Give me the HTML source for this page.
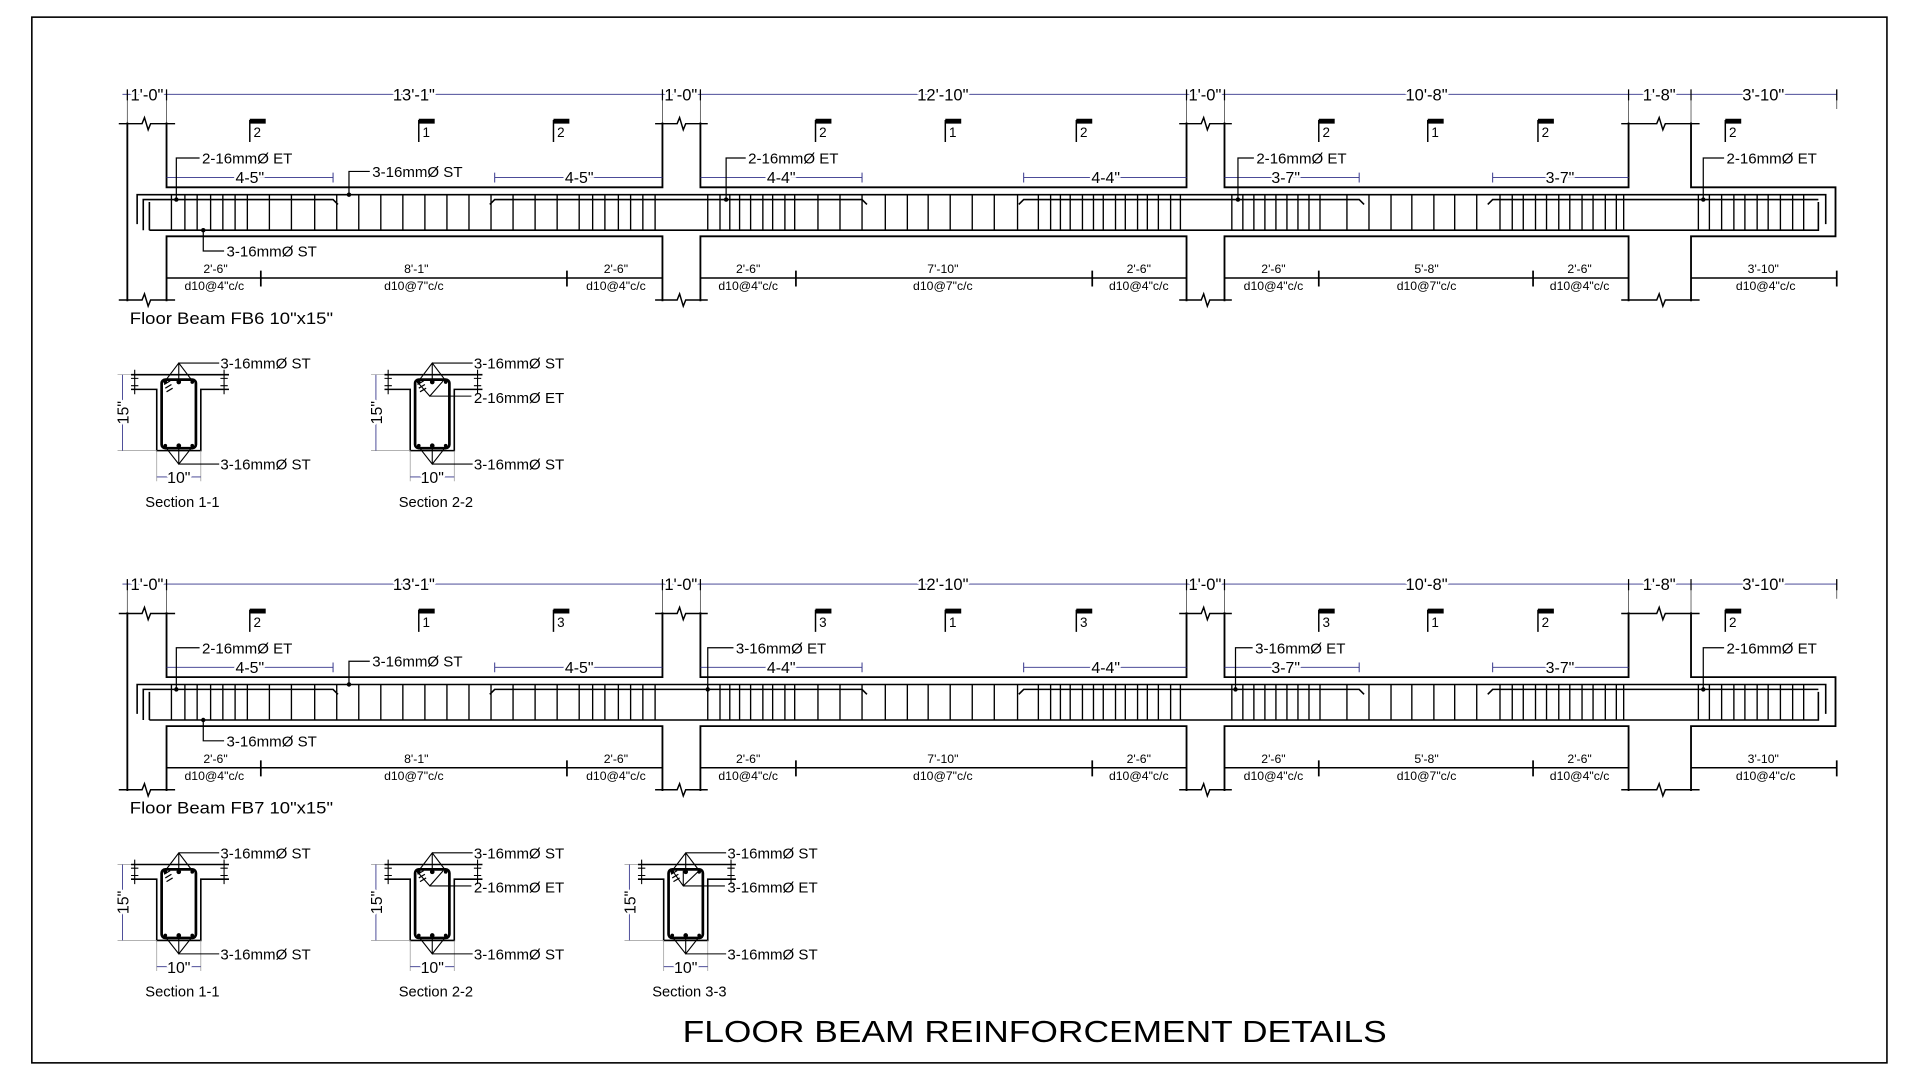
<!DOCTYPE html>
<html><head><meta charset="utf-8"><style>
html,body{margin:0;padding:0;background:#fff;width:1920px;height:1080px;overflow:hidden}
svg{display:block}
text{font-family:"Liberation Sans",Arial,sans-serif;fill:#000}
.w{paint-order:stroke;stroke:#fff;stroke-width:4px;stroke-linejoin:round}
</style></head><body>
<svg width="1920" height="1080" viewBox="0 0 1568 882" preserveAspectRatio="none" xmlns="http://www.w3.org/2000/svg">
<defs>
<g id="beam">
  <path d="M100 77H1500" stroke="#33338a" stroke-width="0.7" fill="none"/>
  <path d="M104 73V100M136 73V100M541 73V100M572 73V100M969 73V100M1000 73V100M1330 73V100M1381 73V100M1500 73V89" stroke="#555" stroke-width="0.7" fill="none"/>
  <path d="M104 73V82M136 73V82M541 73V82M572 73V82M969 73V82M1000 73V82M1330 73V82M1381 73V82M1500 73V82" stroke="#000" stroke-width="1" fill="none"/>
  <g font-size="13.5" text-anchor="middle">
    <text class="w" x="120" y="82">1'-0"</text>
    <text class="w" x="338" y="82">13'-1"</text>
    <text class="w" x="556" y="82">1'-0"</text>
    <text class="w" x="770" y="82">12'-10"</text>
    <text class="w" x="984" y="82">1'-0"</text>
    <text class="w" x="1165" y="82">10'-8"</text>
    <text class="w" x="1355" y="82">1'-8"</text>
    <text class="w" x="1440" y="82">3'-10"</text>
  </g>
  <path d="M104 100V246M136 100V153H541V100M572 100V153H969V100M1000 100V153H1330V100M1381 100V153H1499V193H1381V246M136 246V193H541V246M572 246V193H969V246M1000 246V193H1330V246" stroke="#000" stroke-width="1.5" fill="none"/>
  <path d="M97 101H116L118 96L121 106L123 101H143M535 101H553L555 96L558 106L560 101H578M963 101H981L983 96L986 106L988 101H1006M1324 101H1353L1355 96L1358 106L1360 101H1388M97 245H116L118 240L121 250L123 245H143M535 245H553L555 240L558 250L560 245H578M963 245H981L983 240L986 250L988 245H1006M1324 245H1353L1355 240L1358 250L1360 245H1388" stroke="#000" stroke-width="1.2" fill="none"/>
  <path d="M112 183V159H1491V183M122 188V165M122 188H1485V165M117 188V163H272L276 167M400 167L404 163H704L708 167M832 167L836 163H1110L1114 167M1215 167L1219 163H1485" stroke="#000" stroke-width="1.3" fill="none"/>
  <path stroke="#000" stroke-width="1.1" fill="none" d="M140 159V188M151 159V188M161 159V188M172 159V188M182 159V188M192 159V188M202 159V188M220 159V188M238 159V188M257 159V188M275 159V188M293 159V188M311 159V188M329 159V188M347 159V188M365 159V188M383 159V188M401 159V188M419 159V188M437 159V188M455 159V188M473 159V188M484 159V188M494 159V188M505 159V188M515 159V188M525 159V188M535 159V188
  M578 159V188M588 159V188M596 159V188M604 159V188M613 159V188M623 159V188M631 159V188M641 159V188M649 159V188M668 159V188M686 159V188M704 159V188M723 159V188M741 159V188M758 159V188M776 159V188M794 159V188M812 159V188M831 159V188M848 159V188M858 159V188M866 159V188M874 159V188M884 159V188M893 159V188M901 159V188M911 159V188M919 159V188M929 159V188M937 159V188M946 159V188M956 159V188M964 159V188
  M1006 159V188M1015 159V188M1024 159V188M1033 159V188M1042 159V188M1051 159V188M1060 159V188M1069 159V188M1078 159V188M1100 159V188M1118 159V188M1136 159V188M1153 159V188M1171 159V188M1188 159V188M1206 159V188M1225 159V188M1235 159V188M1244 159V188M1254 159V188M1263 159V188M1273 159V188M1282 159V188M1292 159V188M1301 159V188M1311 159V188M1320 159V188M1326 159V188
  M1387 159V188M1396 159V188M1406 159V188M1416 159V188M1425 159V188M1435 159V188M1444 159V188M1454 159V188M1464 159V188M1473 159V188"/>
  <path d="M136 145H272M404 145H541M572 145H704M836 145H969M1000 145H1110M1219 145H1330" stroke="#33338a" stroke-width="0.7" fill="none"/>
  <path d="M272 141V149M404 141V149M704 141V149M836 141V149M1110 141V149M1219 141V149" stroke="#33338a" stroke-width="0.8"/>
  <g font-size="13" text-anchor="middle">
    <text class="w" x="204" y="149.5">4-5"</text>
    <text class="w" x="473" y="149.5">4-5"</text>
    <text class="w" x="638" y="149.5">4-4"</text>
    <text class="w" x="903" y="149.5">4-4"</text>
    <text class="w" x="1050" y="149.5">3-7"</text>
    <text class="w" x="1274" y="149.5">3-7"</text>
  </g>
  <path d="M136 227H541M572 227H969M1000 227H1330M1381 227H1500" stroke="#000" stroke-width="1.2" fill="none"/>
  <path d="M213 221V234M463 221V234M650 221V234M892 221V234M1077 221V234M1252 221V234M1500 221V234" stroke="#000" stroke-width="1.4"/>
  <g font-size="10" text-anchor="middle">
    <text x="176" y="223">2'-6"</text><text x="340" y="223">8'-1"</text><text x="503" y="223">2'-6"</text>
    <text x="175" y="237">d10@4"c/c</text><text x="338" y="237">d10@7"c/c</text><text x="503" y="237">d10@4"c/c</text>
    <text x="611" y="223">2'-6"</text><text x="770" y="223">7'-10"</text><text x="930" y="223">2'-6"</text>
    <text x="611" y="237">d10@4"c/c</text><text x="770" y="237">d10@7"c/c</text><text x="930" y="237">d10@4"c/c</text>
    <text x="1040" y="223">2'-6"</text><text x="1165" y="223">5'-8"</text><text x="1290" y="223">2'-6"</text>
    <text x="1040" y="237">d10@4"c/c</text><text x="1165" y="237">d10@7"c/c</text><text x="1290" y="237">d10@4"c/c</text>
    <text x="1440" y="223">3'-10"</text><text x="1442" y="237">d10@4"c/c</text>
  </g>
  <path d="M204 98V116M342 98V116M452 98V116M666 98V116M772 98V116M879 98V116M1077 98V116M1166 98V116M1256 98V116M1409 98V116" stroke="#000" stroke-width="1.2"/>
  <path d="M204 97h13v4h-13zM342 97h13v4h-13zM452 97h13v4h-13zM666 97h13v4h-13zM772 97h13v4h-13zM879 97h13v4h-13zM1077 97h13v4h-13zM1166 97h13v4h-13zM1256 97h13v4h-13zM1409 97h13v4h-13z" fill="#000"/>
  <path d="M144 163V129H163M285 159V140H302M166 188V205H183M1391 163V129H1408" stroke="#000" stroke-width="1" fill="none"/>
  <circle cx="144" cy="163" r="1.8"/><circle cx="285" cy="159" r="1.8"/><circle cx="166" cy="188" r="1.8"/><circle cx="1391" cy="163" r="1.8"/>
  <g font-size="12.3">
    <text x="165" y="133.5">2-16mmØ ET</text>
    <text x="304" y="144.5">3-16mmØ ST</text>
    <text x="185" y="209.5">3-16mmØ ST</text>
    <text x="1410" y="133.5">2-16mmØ ET</text>
  </g>
</g>

<g id="sec">
  <path d="M107 306H187M107 318H128V368H164V318H187" stroke="#000" stroke-width="1.3" fill="none"/>
  <path d="M96 306H107M96 368H128M128 368V393M164 368V393" stroke="#999" stroke-width="0.6" fill="none"/>
  <path d="M110 302V322M107 309H113M107 315H113M183 302V322M180 309H186M180 315H186" stroke="#000" stroke-width="0.9" fill="none"/>
  <rect x="132" y="310" width="28" height="56" rx="3" stroke="#000" stroke-width="2.2" fill="none"/>
  <path d="M134 314l5-3M135 317l5-3M136 320l5-3" stroke="#000" stroke-width="1"/>
  <circle cx="146" cy="312" r="1.9"/><circle cx="135" cy="312" r="1.5"/><circle cx="157" cy="312" r="1.5"/>
  <circle cx="146" cy="364" r="1.9"/><circle cx="135" cy="364" r="1.5"/><circle cx="157" cy="364" r="1.5"/>
  <path d="M135 311L146 296.5L157 311M146 296.5V311M146 296.5H179M135 365L146 379L157 365M146 379V365M146 379H179" stroke="#000" stroke-width="0.9" fill="none"/>
  <path d="M100 306V368M128 389.5H164" stroke="#33338a" stroke-width="0.7" fill="none"/>
  <text class="w" x="0" y="0" font-size="13" text-anchor="middle" transform="translate(105 337) rotate(-90)">15"</text>
  <text class="w" x="146" y="394.5" font-size="13" text-anchor="middle">10"</text>
  <text x="180" y="301" font-size="12.3">3-16mmØ ST</text>
  <text x="180" y="383.5" font-size="12.3">3-16mmØ ST</text>
</g>
</defs>

<rect x="26" y="14" width="1515" height="854" fill="none" stroke="#000" stroke-width="1.3"/>

<use href="#beam"/>
<g font-size="11">
  <text x="207" y="112">2</text><text x="345" y="112">1</text><text x="455" y="112">2</text>
  <text x="669" y="112">2</text><text x="775" y="112">1</text><text x="882" y="112">2</text>
  <text x="1080" y="112">2</text><text x="1169" y="112">1</text><text x="1259" y="112">2</text>
  <text x="1412" y="112">2</text>
</g>
<path d="M593 163V129H609M1011 163V129H1024" stroke="#000" stroke-width="1" fill="none"/>
<circle cx="593" cy="163" r="1.8"/><circle cx="1011" cy="163" r="1.8"/>
<g font-size="12.3"><text x="611" y="133.5">2-16mmØ ET</text><text x="1026" y="133.5">2-16mmØ ET</text></g>
<text x="106" y="264.5" font-size="13.5" textLength="166" lengthAdjust="spacingAndGlyphs">Floor Beam FB6 10"x15"</text>

<use href="#sec"/>
<text x="149" y="414" font-size="12" text-anchor="middle">Section 1-1</text>
<g transform="translate(207 0)">
  <use href="#sec"/>
  <path d="M133 311L144 323.5L155 311M144 323.5H178" stroke="#000" stroke-width="0.9" fill="none"/>
  <text x="180" y="329" font-size="12.3">2-16mmØ ET</text>
  <text x="149" y="414" font-size="12" text-anchor="middle">Section 2-2</text>
</g>

<g transform="translate(0 400)">
  <use href="#beam"/>
  <g font-size="11">
    <text x="207" y="112">2</text><text x="345" y="112">1</text><text x="455" y="112">3</text>
    <text x="669" y="112">3</text><text x="775" y="112">1</text><text x="882" y="112">3</text>
    <text x="1080" y="112">3</text><text x="1169" y="112">1</text><text x="1259" y="112">2</text>
    <text x="1412" y="112">2</text>
  </g>
  <path d="M578 163V129H599M1009 163V129H1023" stroke="#000" stroke-width="1" fill="none"/>
  <circle cx="578" cy="163" r="1.8"/><circle cx="1009" cy="163" r="1.8"/>
  <g font-size="12.3"><text x="601" y="133.5">3-16mmØ ET</text><text x="1025" y="133.5">3-16mmØ ET</text></g>
  <text x="106" y="264.5" font-size="13.5" textLength="166" lengthAdjust="spacingAndGlyphs">Floor Beam FB7 10"x15"</text>

  <use href="#sec"/>
  <text x="149" y="414" font-size="12" text-anchor="middle">Section 1-1</text>
  <g transform="translate(207 0)">
    <use href="#sec"/>
    <path d="M133 311L144 323.5L155 311M144 323.5H178" stroke="#000" stroke-width="0.9" fill="none"/>
    <text x="180" y="329" font-size="12.3">2-16mmØ ET</text>
    <text x="149" y="414" font-size="12" text-anchor="middle">Section 2-2</text>
  </g>
  <g transform="translate(414 0)">
    <use href="#sec"/>
    <path d="M135 311L144 323.5L157 311M144 323.5V311M144 323.5H178" stroke="#000" stroke-width="0.9" fill="none"/>
    <text x="180" y="329" font-size="12.3">3-16mmØ ET</text>
    <text x="149" y="414" font-size="12" text-anchor="middle">Section 3-3</text>
  </g>
</g>

<text x="845" y="851" font-size="25" text-anchor="middle" textLength="575" lengthAdjust="spacingAndGlyphs">FLOOR BEAM REINFORCEMENT DETAILS</text>
</svg>
</body></html>
